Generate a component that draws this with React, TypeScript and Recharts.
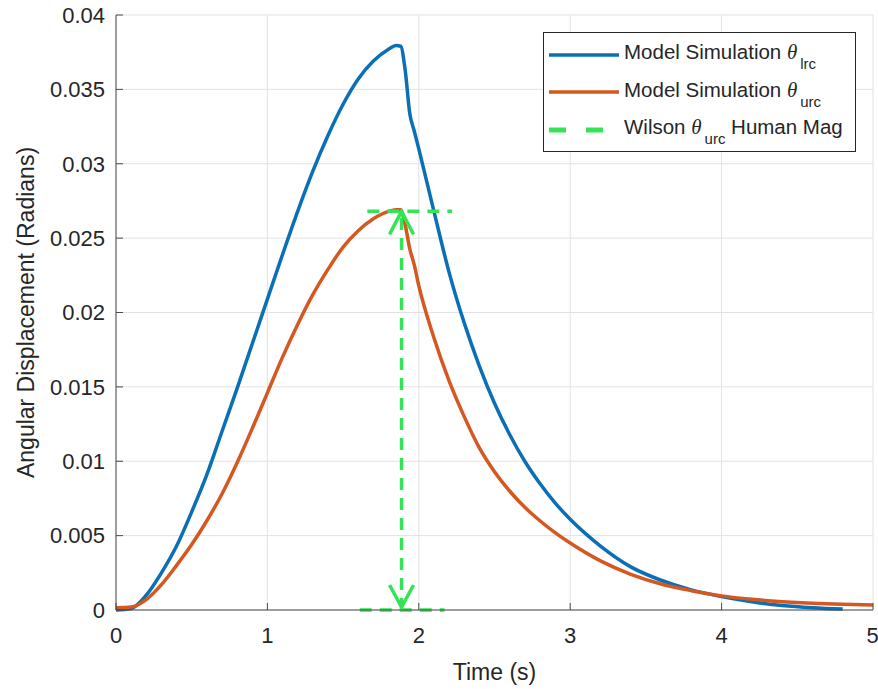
import React from "react";
import { LineChart, Line, XAxis, YAxis, CartesianGrid, Legend } from "recharts";

// time base (s) shared by both simulated traces
const time = [
  0, 0.1, 0.2, 0.3, 0.4, 0.5, 0.6, 0.7, 0.8, 0.9, 1.0, 1.1, 1.2, 1.3, 1.4, 1.5, 1.6, 1.7, 1.8,
  1.85, 1.88, 1.91, 1.94, 1.97, 2.0, 2.1, 2.2, 2.3, 2.4, 2.5, 2.6, 2.7, 2.8, 2.9, 3.0, 3.2, 3.4,
  3.6, 3.8, 4.0, 4.2, 4.4, 4.6, 4.8, 5.0,
];

// lower rib cage rotation (rad)
const thetaLrc = [
  0, 0.0001, 0.001, 0.0025, 0.0043, 0.0066, 0.0091, 0.012, 0.0149, 0.0179, 0.0209, 0.0239, 0.0268,
  0.0295, 0.0319, 0.034, 0.0357, 0.0369, 0.0377, 0.03795, 0.0379, 0.0363, 0.0334, 0.0322, 0.031,
  0.0268, 0.0227, 0.0193, 0.0164, 0.0139, 0.0118, 0.01, 0.0085, 0.0072, 0.0061, 0.0043, 0.0029,
  0.002, 0.00135, 0.0009, 0.00055, 0.0003, 0.00015, 0.00006, null,
];

// upper rib cage rotation (rad)
const thetaUrc = [
  0.00015, 0.0002, 0.0007, 0.0017, 0.003, 0.0044, 0.006, 0.0078, 0.0099, 0.0122, 0.0146, 0.017,
  0.0192, 0.0212, 0.0229, 0.0244, 0.0255, 0.0263, 0.0268, 0.0269, 0.0269, 0.0259, 0.0243, 0.0232,
  0.0218, 0.0183, 0.0154, 0.013, 0.0109, 0.0093, 0.008, 0.0069, 0.006, 0.0052, 0.0045, 0.0033,
  0.0024, 0.00175, 0.0013, 0.00095, 0.00072, 0.00056, 0.00045, 0.00038, 0.00034,
];

const xTicks = [0, 1, 2, 3, 4, 5];
const yTicks = [0, 0.005, 0.01, 0.015, 0.02, 0.025, 0.03, 0.035, 0.04];

// Wilson human magnitude: measured peak and where it is marked
const wilsonTime = 1.886;
const wilsonMag = 0.0268;
const wilsonTopCap = [1.66, 2.22];
const wilsonBaseCap = [1.61, 2.17];

const BLUE = "#0b6fb5";
const ORANGE = "#d4581f";
const GREEN = "#35e355";
const INK = "#262626";

const rows = time.map((t, i) => ({ t, lrc: thetaLrc[i], urc: thetaUrc[i] }));
const magLine = [
  { t: wilsonTime, v: 0 },
  { t: wilsonTime, v: wilsonMag },
];
const topCap = wilsonTopCap.map((t) => ({ t, v: wilsonMag }));
const baseCap = wilsonBaseCap.map((t) => ({ t, v: 0 }));

const legendItems = [
  { label: "Model Simulation ", sub: "lrc", after: "", color: BLUE, dash: undefined },
  { label: "Model Simulation ", sub: "urc", after: "", color: ORANGE, dash: undefined },
  { label: "Wilson ", sub: "urc", after: " Human Mag", color: GREEN, dash: "17 20" },
];

// open arrowheads at both ends of the magnitude line
const ArrowHead = (props: any) => {
  const { cx, cy, index } = props;
  const up = index === 1;
  const tip = up ? cy : cy - 3;
  const base = up ? tip + 23 : tip - 22;
  return (
    <polyline
      key={`arrow-${index}`}
      points={`${cx - 12},${base} ${cx},${tip} ${cx + 12},${base}`}
      fill="none"
      stroke={GREEN}
      strokeWidth={3.5}
    />
  );
};

const LegendBox = () => (
  <div
    style={{
      width: 313,
      height: 120,
      boxSizing: "border-box",
      border: `1px solid ${INK}`,
      background: "#fff",
      paddingTop: 3,
      color: INK,
    }}
  >
    {legendItems.map((item, i) => (
      <div key={i} style={{ height: 37.5, display: "flex", alignItems: "center", whiteSpace: "nowrap" }}>
        <svg width={80} height={8} style={{ flex: "none" }}>
          <line
            x1={5}
            x2={75}
            y1={4}
            y2={4}
            stroke={item.color}
            strokeWidth={item.dash ? 5 : 3.5}
            strokeDasharray={item.dash}
          />
        </svg>
        <span style={{ fontSize: 20.5, position: "relative", top: -2 }}>
          {item.label}
          <span style={{ fontFamily: "'Liberation Serif', serif", fontStyle: "italic", fontSize: 21 }}>θ</span>
          <span style={{ fontSize: 15, position: "relative", top: 10, marginLeft: 3 }}>{item.sub}</span>
          {item.after}
        </span>
      </div>
    ))}
  </div>
);

export default function App() {
  return (
    <div
      style={{
        position: "absolute",
        left: 0,
        top: 0,
        width: 878,
        height: 689,
        background: "#fff",
        fontFamily: "'Liberation Sans', Arial, Helvetica, sans-serif",
      }}
    >
      <LineChart width={878} height={689} data={rows} margin={{ top: 15, right: 5, left: 0, bottom: 0 }}>
        <CartesianGrid stroke="#e2e2e2" />
        <XAxis
          dataKey="t"
          type="number"
          domain={[0, 5]}
          ticks={xTicks}
          height={79}
          stroke="#4a4a4a"
          tickSize={-7}
          tickMargin={24}
          tick={{ fill: INK, fontSize: 22 }}
          label={{ value: "Time (s)", position: "insideBottom", offset: 9, fill: INK, fontSize: 23 }}
        />
        <XAxis
          xAxisId="top"
          orientation="top"
          type="number"
          domain={[0, 5]}
          ticks={xTicks}
          height={0}
          stroke="#4a4a4a"
          tickSize={-7}
          tick={false}
        />
        <YAxis
          type="number"
          domain={[0, 0.04]}
          ticks={yTicks}
          width={116}
          stroke="#4a4a4a"
          tickSize={-7}
          tickMargin={18}
          tick={{ fill: INK, fontSize: 22 }}
          label={{
            value: "Angular Displacement (Radians)",
            angle: -90,
            position: "insideLeft",
            offset: 26,
            fill: INK,
            fontSize: 23,
            style: { textAnchor: "middle" },
          }}
        />
        <YAxis
          yAxisId="right"
          orientation="right"
          type="number"
          domain={[0, 0.04]}
          ticks={yTicks}
          width={0}
          stroke="#4a4a4a"
          tickSize={-7}
          tick={false}
        />
        <Legend
          layout="vertical"
          align="center"
          verticalAlign="middle"
          content={<LegendBox />}
          wrapperStyle={{ left: 543, top: 32, width: 313, height: 120 }}
        />
        <Line type="monotone" dataKey="lrc" stroke={BLUE} strokeWidth={3.5} dot={false} isAnimationActive={false} />
        <Line type="monotone" dataKey="urc" stroke={ORANGE} strokeWidth={3.5} dot={false} isAnimationActive={false} />
        <Line
          data={topCap}
          dataKey="v"
          stroke={GREEN}
          strokeWidth={3.5}
          strokeDasharray="12 8"
          dot={false}
          isAnimationActive={false}
        />
        <Line
          data={baseCap}
          dataKey="v"
          stroke={GREEN}
          strokeWidth={3.5}
          strokeDasharray="12 8"
          dot={false}
          isAnimationActive={false}
        />
        <Line
          data={magLine}
          dataKey="v"
          type="linear"
          stroke={GREEN}
          strokeWidth={3.5}
          strokeDasharray="12 8"
          dot={ArrowHead}
          isAnimationActive={false}
        />
      </LineChart>
    </div>
  );
}
